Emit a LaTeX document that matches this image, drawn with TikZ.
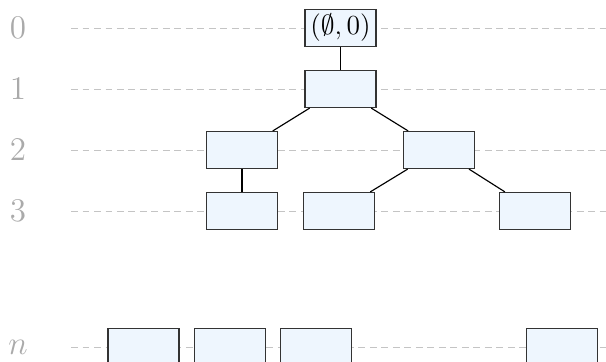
\documentclass[tikz,border=0pt]{standalone}
\usepackage{tikz}
\usetikzlibrary{shapes}
\definecolor{boxfill}{HTML}{EEF6FE}
\definecolor{boxline}{HTML}{333333}
\definecolor{levelgray}{HTML}{AAAAAA}
\definecolor{dashgray}{HTML}{C4C4C4}

\begin{document}
\begin{tikzpicture}[
  state/.style={shape=rectangle,draw=boxline,fill=boxfill,align=center,line width=0.5pt,minimum width=30.9pt,minimum height=16.1pt,inner sep=0pt,font=\large},
  level/.style={text=levelgray,inner sep=0pt,font=\Large},
  guide/.style={draw=dashgray,line width=0.4pt,dash pattern=on 3pt off 2pt}]
\useasboundingbox (0,0) rectangle (9.266,5.535);
\node[level] (L0) at (0.275,5.107) {$0$};
\node[level] (L1) at (0.275,4.174) {$1$};
\node[level] (L2) at (0.275,3.241) {$2$};
\node[level] (L3) at (0.275,2.309) {$3$};
\node[level] (Ln) at (0.275,0.229) {$n$};

\foreach \l/\y in {0/5.107,1/4.174,2/3.241,3/2.309,n/0.229} {
  \coordinate (s\l) at (1.086,\y);
  \coordinate (e\l) at (9.266,\y);
  \path [guide] (s\l) -- (e\l);
}

\node[state] (0) at (5.206,5.107) {$(\emptyset,0)$};
\node[state] (1) at (5.206,4.174) {};
\node[state] (2) at (3.700,3.241) {};
\node[state] (3) at (6.712,3.241) {};
\node[state] (4) at (3.700,2.309) {};
\node[state] (5) at (5.183,2.309) {};
\node[state] (6) at (8.180,2.309) {};
\node[state] (7) at (2.194,0.229) {};
\node[state] (8) at (3.517,0.229) {};
\node[state] (9) at (4.832,0.229) {};
\node[state] (10) at (8.593,0.229) {};

\path [-,draw=black,line width=0.5pt] (0) edge (1);
\path [-,draw=black,line width=0.5pt] (1) edge (2);
\path [-,draw=black,line width=0.5pt] (1) edge (3);
\path [-,draw=black,line width=0.5pt] (2) edge (4);
\path [-,draw=black,line width=0.5pt] (3) edge (5);
\path [-,draw=black,line width=0.5pt] (3) edge (6);
\end{tikzpicture}
\end{document}
